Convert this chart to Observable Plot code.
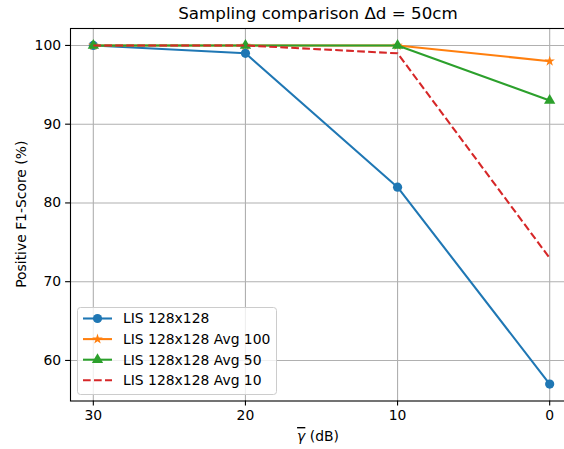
<!DOCTYPE html>
<html>
<head>
<meta charset="utf-8">
<script src="https://cdn.jsdelivr.net/npm/d3@7"></script>
<script src="https://cdn.jsdelivr.net/npm/@observablehq/plot@0.6"></script>
<style>
  html, body { margin: 0; padding: 0; background: white; overflow: hidden; }
  #chart svg { display: block; max-width: none; }
</style>
</head>
<body>
<div id="chart"></div>
<script>
const gamma = [30, 20, 10, 0];
const xTicks = [30, 20, 10, 0];
const yTicks = [60, 70, 80, 90, 100];
const seriesNames = ["LIS 128x128", "LIS 128x128 Avg 100", "LIS 128x128 Avg 50", "LIS 128x128 Avg 10"];
const lis = [100, 99, 82, 57];
const avg100 = [100, 100, 100, 98];
const avg50 = [100, 100, 100, 93];
const avg10 = [100, 100, 99, 73];
const seriesValues = [lis, avg100, avg50, avg10];
const colors = ["#1f77b4", "#ff7f0e", "#2ca02c", "#d62728"];
const symbols = ["circle", "star", "triangle", null];
const radii = [4.6, 3.3, 4.2, 0];
const dashes = [null, null, null, "7.7,3.3"];

const FONT = "DejaVu Sans, sans-serif";
const W = 572, H = 449;
const mL = 70, mR = 0, mT = 28, mB = 48.5;

const marks = [
  Plot.gridX(xTicks, {stroke: "#b0b0b0", strokeOpacity: 1, strokeWidth: 1.1}),
  Plot.gridY(yTicks, {stroke: "#b0b0b0", strokeOpacity: 1, strokeWidth: 1.1})
];
seriesNames.forEach((name, i) => {
  const rows = gamma.map((g, j) => ({g, v: seriesValues[i][j], s: name}));
  marks.push(Plot.line(rows, {
    x: "g", y: "v", stroke: colors[i], strokeWidth: 2.08,
    strokeDasharray: dashes[i] || undefined, strokeLinecap: "butt"
  }));
  if (symbols[i]) {
    marks.push(Plot.dot(rows, {x: "g", y: "v", symbol: () => symbols[i], fill: colors[i], stroke: "none", r: radii[i]}));
  }
});
marks.push(
  Plot.axisX(xTicks, {tickSize: 4.9, tickPadding: 4.5, fontSize: 13.9, fill: "black", stroke: "black", strokeWidth: 1.1, label: null}),
  Plot.axisY(yTicks, {tickSize: 4.9, tickPadding: 4.5, fontSize: 13.9, fill: "black", stroke: "black", strokeWidth: 1.1, label: null}),
  Plot.frame({stroke: "black", strokeWidth: 1.1})
);

const plot = Plot.plot({
  width: W, height: H,
  marginLeft: mL, marginRight: mR, marginTop: mT, marginBottom: mB,
  style: {fontFamily: FONT, background: "white", color: "black", maxWidth: "none"},
  x: {domain: [31.5, -1.5]},
  y: {domain: [54.85, 102.15]},
  marks
});
plot.style.maxWidth = "none";
document.getElementById("chart").appendChild(plot);

const svg = d3.select(plot);
const cx = (mL + W - mR) / 2;

// Title
svg.append("text").attr("x", cx - 3).attr("y", 19).attr("text-anchor", "middle")
  .attr("font-family", FONT).attr("font-size", 16.7).attr("fill", "black")
  .text("Sampling comparison \u0394d = 50cm");

// Y label
svg.append("text").attr("transform", `translate(26,${(mT + H - mB) / 2}) rotate(-90)`)
  .attr("text-anchor", "middle").attr("font-family", FONT).attr("font-size", 13.9).attr("fill", "black")
  .text("Positive F1-Score (%)");

// X label with overlined italic gamma
const xl = svg.append("text").attr("x", cx - 3).attr("y", 441).attr("text-anchor", "middle")
  .attr("font-family", FONT).attr("font-size", 13.9).attr("fill", "black");
xl.append("tspan").attr("font-style", "italic").attr("text-decoration", "overline").text("\u03b3");
xl.append("tspan").text(" (dB)");

// Legend
const lg = svg.append("g").attr("text-anchor", "start");
lg.append("rect").attr("x", 77.5).attr("y", 307.5).attr("width", 199).attr("height", 87)
  .attr("rx", 3).attr("fill", "white").attr("fill-opacity", 0.8)
  .attr("stroke", "#cccccc").attr("stroke-width", 1);
const d3sym = {circle: d3.symbolCircle, star: d3.symbolStar, triangle: d3.symbolTriangle};
seriesNames.forEach((name, i) => {
  const y = 318.5 + i * 20.6;
  lg.append("line").attr("x1", 83).attr("x2", 112).attr("y1", y).attr("y2", y)
    .attr("stroke", colors[i]).attr("stroke-width", 2.08)
    .attr("stroke-dasharray", dashes[i]);
  if (symbols[i]) {
    lg.append("path").attr("transform", `translate(97.5,${y})`)
      .attr("d", d3.symbol(d3sym[symbols[i]], radii[i] * radii[i] * Math.PI)())
      .attr("fill", colors[i]);
  }
  lg.append("text").attr("x", 123).attr("y", y).attr("dy", "0.35em").attr("text-anchor", "start")
    .attr("font-family", FONT).attr("font-size", 13.9).attr("fill", "black").text(name);
});
</script>
</body>
</html>
